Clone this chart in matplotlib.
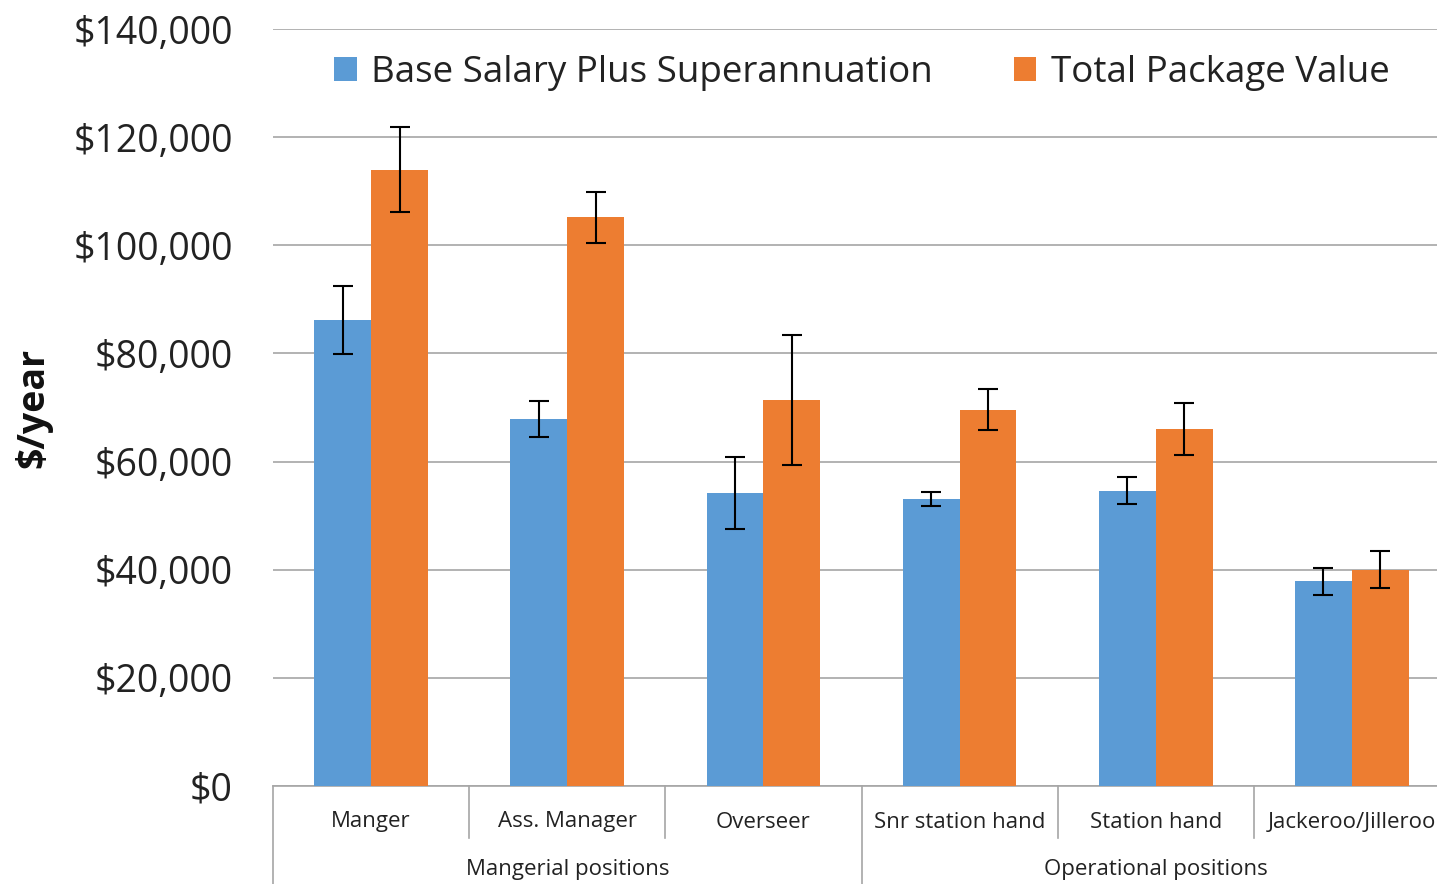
import matplotlib
matplotlib.use("Agg")
import matplotlib.pyplot as plt
from matplotlib.patches import Patch
import numpy as np

categories = ["Manger", "Ass. Manager", "Overseer", "Snr station hand", "Station hand", "Jackeroo/Jilleroo"]
groups = ["Mangerial positions", "Operational positions"]
group_sizes = [3, 3]
series_names = ["Base Salary Plus Superannuation", "Total Package Value"]
base_vals = [86200, 67900, 54200, 53100, 54600, 37900]
base_err = [6300, 3300, 6600, 1300, 2500, 2500]
total_vals = [114000, 105200, 71400, 69600, 66000, 40000]
total_err = [7800, 4700, 12000, 3800, 4800, 3400]
yticks = [0, 20000, 40000, 60000, 80000, 100000, 120000, 140000]

BLUE = "#5B9BD5"
ORANGE = "#ED7D31"
GRID = "#a6a6a6"
FONT = ["Open Sans", "DejaVu Sans"]
plt.rcParams["font.family"] = FONT

W, H = 1437, 884
fig = plt.figure(figsize=(W / 100, H / 100), dpi=100)
ax_left, ax_right, ax_top, ax_bottom = 273, 1450, 29, 786
ax = fig.add_axes([ax_left / W, (H - ax_bottom) / H, (ax_right - ax_left) / W, (ax_bottom - ax_top) / H])

n = len(categories)
x = np.arange(n)
bw = 0.29
ek = dict(ecolor="black", elinewidth=1.5, capsize=7.5, capthick=1.5)
ax.bar(x - bw / 2, base_vals, bw, color=BLUE, yerr=base_err, error_kw=ek, zorder=3)
ax.bar(x + bw / 2, total_vals, bw, color=ORANGE, yerr=total_err, error_kw=ek, zorder=3)

ax.set_xlim(-0.5, n - 0.5)
ax.set_ylim(0, 140000)
ax.set_yticks(yticks)
ax.set_yticklabels([f"${v:,.0f}" for v in yticks], fontsize=27, color="#222222")
ax.tick_params(axis="y", length=0, pad=29)
for lbl in ax.get_yticklabels():
    lbl.set_va("center_baseline")
ax.set_xticks([])
ax.yaxis.grid(True, color=GRID, linewidth=1.2, zorder=0)
ax.set_axisbelow(True)
for s in ["left", "right", "top"]:
    ax.spines[s].set_visible(False)
ax.spines["bottom"].set_color(GRID)
ax.spines["bottom"].set_linewidth(1.2)

axh = ax_bottom - ax_top
def yfrac(py):
    return -(py - ax_bottom) / axh

trans = ax.get_xaxis_transform()
for i, c in enumerate(categories):
    ax.text(i, yfrac(822), c, transform=trans, ha="center", va="center", fontsize=16, color="#222222", clip_on=False)
bounds = np.cumsum([0] + group_sizes)
for b in range(n + 1):
    xb = b - 0.5
    if b in bounds:
        ax.plot([xb, xb], [0, yfrac(884)], transform=trans, color=GRID, lw=1.2, clip_on=False)
    else:
        ax.plot([xb, xb], [0, yfrac(838)], transform=trans, color=GRID, lw=1.2, clip_on=False)
for g, name in enumerate(groups):
    xc = (bounds[g] + bounds[g + 1] - 1) / 2
    ax.text(xc, yfrac(870), name, transform=trans, ha="center", va="center", fontsize=16, color="#222222", clip_on=False)

handles = [Patch(facecolor=BLUE), Patch(facecolor=ORANGE)]
leg = ax.legend(handles, series_names, loc="center", bbox_to_anchor=(862 / W, 1 - 73 / H),
                bbox_transform=fig.transFigure, ncol=2, frameon=False, fontsize=26.5,
                handlelength=0.6, handleheight=0.6, handletextpad=0.4, columnspacing=2.2)
for t in leg.get_texts():
    t.set_color("#222222")

fig.text(33 / W, 1 - 408 / H, "$/year", rotation=90, ha="center", va="center", fontsize=27, fontweight="bold", color="#111111")

fig.savefig("out.png", dpi=100)
